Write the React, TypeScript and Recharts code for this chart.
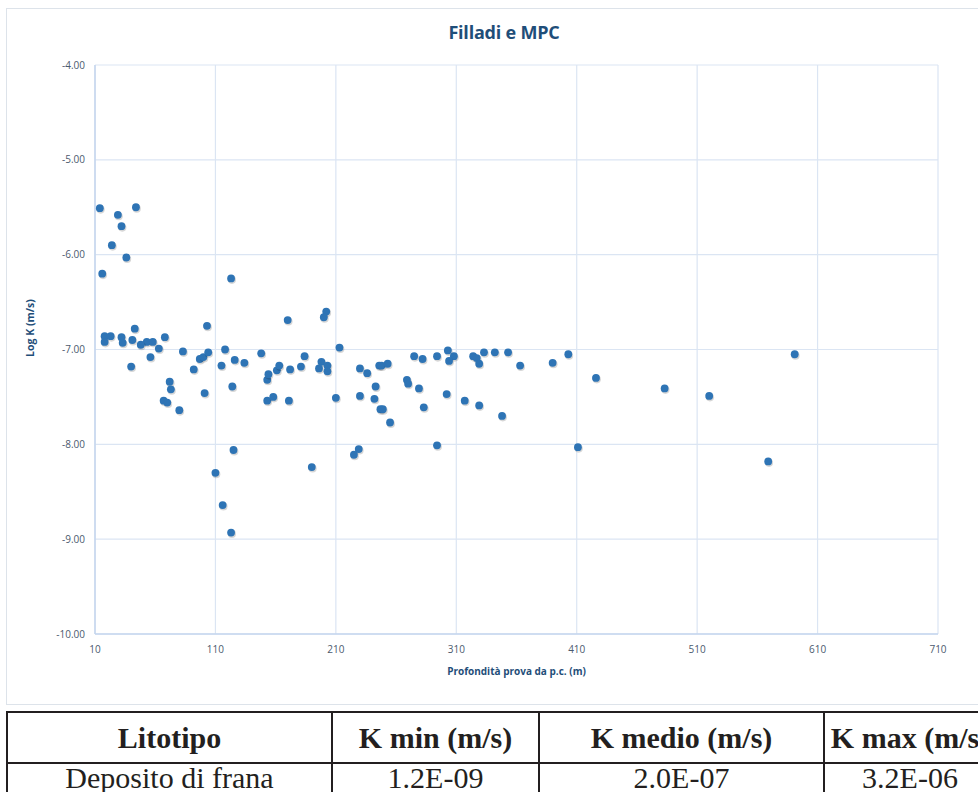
import { CartesianGrid, Scatter, ScatterChart, XAxis, YAxis } from 'recharts'

// depth of test below ground level (m)
const depth = [
    14, 29, 44, 32, 24, 36, 16, 123, 43, 103,
    18, 23, 32, 41, 53, 58, 68, 18, 33, 48,
    63, 56, 83, 40, 92, 97, 100, 104, 118, 115,
    126, 134, 148, 72, 73, 67, 70, 80, 101, 124,
    153, 154, 161, 163, 153, 158, 125, 170, 202, 200,
    172, 181, 184, 198, 196, 203, 203, 213, 171, 210,
    230, 236, 246, 243, 230, 242, 247, 229, 225, 248,
    253, 275, 282, 294, 303, 308, 304, 324, 327, 329,
    333, 342, 353, 363, 390, 403, 426, 269, 270, 279,
    302, 317, 249, 283, 329, 255, 348, 294, 411, 110,
    116, 123, 190, 483, 520, 591, 569,
]

// log K (m/s)
const logK = [
    -5.51, -5.58, -5.5, -5.7, -5.9, -6.03, -6.2, -6.25, -6.78, -6.75,
    -6.86, -6.86, -6.87, -6.9, -6.92, -6.92, -6.87, -6.92, -6.93, -6.95,
    -6.99, -7.08, -7.02, -7.18, -7.21, -7.1, -7.08, -7.03, -7.0, -7.17,
    -7.11, -7.14, -7.04, -7.34, -7.42, -7.54, -7.56, -7.64, -7.46, -7.39,
    -7.32, -7.26, -7.22, -7.17, -7.54, -7.5, -8.06, -6.69, -6.6, -6.66,
    -7.21, -7.18, -7.07, -7.13, -7.2, -7.17, -7.23, -6.98, -7.54, -7.51,
    -7.2, -7.25, -7.17, -7.39, -7.49, -7.52, -7.63, -8.05, -8.11, -7.17,
    -7.15, -7.07, -7.1, -7.07, -7.01, -7.07, -7.12, -7.07, -7.09, -7.15,
    -7.03, -7.03, -7.03, -7.17, -7.14, -7.05, -7.3, -7.32, -7.36, -7.41,
    -7.47, -7.54, -7.63, -7.61, -7.59, -7.77, -7.7, -8.01, -8.03, -8.3,
    -8.64, -8.93, -8.24, -7.41, -7.49, -7.05, -8.18,
]

const xTicks = [10, 110, 210, 310, 410, 510, 610, 710]
const yTicks = [-10, -9, -8, -7, -6, -5, -4]

const tableHeader = ['Litotipo', 'K min (m/s)', 'K medio (m/s)', 'K max (m/s)']
const tableRow = ['Deposito di frana', '1.2E-09', '2.0E-07', '3.2E-06']
const colWidths = [323, 205, 283, 170]

const points = depth.map((d, i) => ({ x: d, y: logK[i] }))

const GRID = '#dbe5f3'
const AXIS = '#c5d6ee'
const DARK_BLUE = '#1f4e79'
const TICK = '#4b5a6e'
const FONT = '"Open Sans", "Noto Sans", sans-serif'

const Dot = (p: any) => (
    <g>
        <circle cx={p.cx + 0.8} cy={p.cy + 1.4} r={4.1} fill="#000" opacity={0.16} />
        <circle cx={p.cx} cy={p.cy} r={3.9} fill="#2e74b5" />
    </g>
)

const YLabel = () => (
    <text
        x={30}
        y={328}
        transform="rotate(-90 30 328)"
        textAnchor="middle"
        dominantBaseline="central"
        fontFamily={FONT}
        fontSize={10.5}
        fontWeight={700}
        fill={DARK_BLUE}
    >
        Log K (m/s)
    </text>
)

const XLabel = (props: any) => {
    const vb = props.viewBox || { x: 95, width: 843 }
    return (
        <text
            x={vb.x + vb.width / 2}
            y={675}
            textAnchor="middle"
            fontFamily={FONT}
            fontSize={10}
            fontWeight={700}
            fill={DARK_BLUE}
        >
            Profondità prova da p.c. (m)
        </text>
    )
}

const cellStyle = (i: number, bold: boolean): any => ({
    border: '2px solid #231f20',
    textAlign: 'center',
    fontFamily: '"Liberation Serif", "Times New Roman", serif',
    fontSize: 30,
    fontWeight: bold ? 700 : 400,
    color: '#231f20',
    padding: 0,
    width: colWidths[i],
    whiteSpace: 'nowrap',
    overflow: 'hidden',
})

export default function App() {
    return (
        <div
            style={{
                position: 'absolute',
                left: 0,
                top: 0,
                width: 978,
                height: 792,
                overflow: 'hidden',
                background: '#fff',
            }}
        >
            {/* chart frame */}
            <div
                style={{
                    position: 'absolute',
                    left: 6,
                    top: 8,
                    width: 1000,
                    height: 695,
                    border: '1px solid #dde3ea',
                }}
            />
            <div
                style={{
                    position: 'absolute',
                    left: 0,
                    top: 20,
                    width: 1008,
                    textAlign: 'center',
                    fontFamily: FONT,
                    fontSize: 18,
                    fontWeight: 700,
                    color: DARK_BLUE,
                    letterSpacing: -0.2,
                }}
            >
                Filladi e MPC
            </div>
            <div style={{ position: 'absolute', left: 0, top: 0 }}>
                <ScatterChart
                    width={978}
                    height={704}
                    margin={{ top: 65, right: 40, bottom: 40, left: 0 }}
                >
                    <CartesianGrid stroke={GRID} strokeWidth={1.2} />
                    <XAxis
                        type="number"
                        dataKey="x"
                        domain={[10, 710]}
                        ticks={xTicks}
                        interval={0}
                        height={30}
                        axisLine={{ stroke: AXIS, strokeWidth: 1.5 }}
                        tickLine={false}
                        tickSize={0}
                        tickMargin={12}
                        tick={{ fill: TICK, fontSize: 10, fontFamily: FONT }}
                        label={{ content: XLabel }}
                    />
                    <YAxis
                        type="number"
                        dataKey="y"
                        domain={[-10, -4]}
                        ticks={yTicks}
                        interval={0}
                        width={95}
                        axisLine={{ stroke: AXIS, strokeWidth: 1.5 }}
                        tickLine={false}
                        tickSize={0}
                        tickMargin={10}
                        tickFormatter={(v: number) => v.toFixed(2)}
                        tick={{ fill: TICK, fontSize: 10, fontFamily: FONT }}
                        label={{ content: YLabel }}
                    />
                    <Scatter data={points} shape={Dot} isAnimationActive={false} />
                </ScatterChart>
            </div>
            {/* summary table below the chart */}
            <table
                style={{
                    position: 'absolute',
                    left: 6,
                    top: 711,
                    borderCollapse: 'collapse',
                    tableLayout: 'fixed',
                    width: colWidths.reduce((a, b) => a + b, 0),
                }}
            >
                <tbody>
                    <tr style={{ height: 51 }}>
                        {tableHeader.map((t, i) => (
                            <td key={t} style={{ ...cellStyle(i, true), verticalAlign: 'middle' }}>
                                {t}
                            </td>
                        ))}
                    </tr>
                    <tr style={{ height: 50 }}>
                        {tableRow.map((t, i) => (
                            <td
                                key={t}
                                style={{
                                    ...cellStyle(i, false),
                                    verticalAlign: 'top',
                                    lineHeight: '28px',
                                    paddingTop: 0,
                                }}
                            >
                                {t}
                            </td>
                        ))}
                    </tr>
                </tbody>
            </table>
        </div>
    )
}
